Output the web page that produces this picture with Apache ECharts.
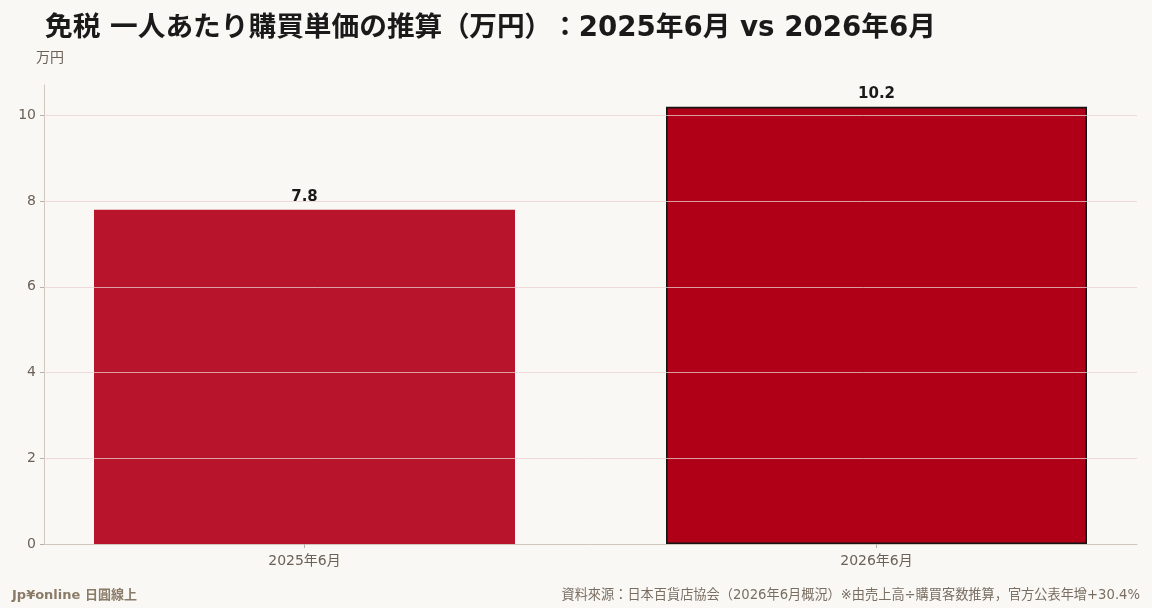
<!DOCTYPE html>
<html>
<head>
<meta charset="utf-8">
<script src="https://cdn.jsdelivr.net/npm/echarts@6/dist/echarts.min.js"></script>
<style>
  html, body { margin: 0; padding: 0; background: #faf8f5; }
  #chart { width: 1152px; height: 608px; }
</style>
</head>
<body>
<div id="chart"></div>
<script>
// 数据
const categories = ['2025年6月', '2026年6月'];
const values = [7.8, 10.2];
const barColors = ['#b8142c', '#b00018'];
const yTicks = [0, 2, 4, 6, 8, 10];

const FONT = '"DejaVu Sans", "Noto Sans CJK JP", sans-serif';

const myBar = echarts.init(document.getElementById('chart'));

const barData = values.map((v, i) => ({
    value: [i, v],
    itemStyle: i === 1
        ? { color: barColors[i], borderColor: '#141414', borderWidth: 1.6 }
        : { color: barColors[i] }
}));

const T = { fontSize: 27.7, fontWeight: 'bold', color: '#1a1a1a', fontFamily: FONT };

const option = {
    backgroundColor: '#faf8f5',
    animation: false,
    textStyle: { fontFamily: FONT },
    title: [
        {
            // 全角括号单独给宽度，保持全角间距
            text: '{a|免税 一人あたり購買単価の推算}{l|（}{a|万円}{r|）}{c|：}{a|2025年6月 vs 2026年6月}',
            left: 40,
            top: 10,
            textStyle: {
                rich: {
                    a: T,
                    l: Object.assign({}, T, { width: 27, align: 'right' }),
                    r: Object.assign({}, T, { width: 27, align: 'left' }),
                    c: Object.assign({}, T, { width: 27, align: 'center' })
                }
            }
        },
        {
            text: 'Jp¥online 日圓線上',
            left: 7,
            top: 584,
            textStyle: { fontSize: 13, fontWeight: 'bold', color: '#8a7b68', fontFamily: FONT }
        },
        {
            text: '資料來源：日本百貨店協会（2026年6月概況）※由売上高÷購買客数推算，官方公表年增+30.4%',
            right: 7,
            top: 584,
            textStyle: { fontSize: 13.2, fontWeight: 'normal', color: '#7a6e62', fontFamily: FONT }
        }
    ],
    grid: { left: 44, right: 15, top: 85, bottom: 64 },
    xAxis: {
        type: 'value',
        min: -0.4554,
        max: 1.4554,
        axisLine: { show: true, onZero: false, lineStyle: { color: '#cfc7be', width: 1 } },
        axisTick: { show: true, customValues: [0, 1], length: 4, lineStyle: { color: '#b8b0a6' } },
        axisLabel: {
            customValues: [0, 1],
            formatter: v => categories[Math.round(v)],
            fontSize: 14,
            color: '#6b6157',
            margin: 10
        },
        splitLine: { show: false }
    },
    yAxis: {
        type: 'value',
        name: '万円',
        nameLocation: 'end',
        nameGap: 20,
        nameTextStyle: { fontSize: 14, color: '#6b6157', align: 'left', padding: [0, 0, 0, -8] },
        min: 0,
        max: 10.71,
        interval: 2,
        axisLine: { show: true, onZero: false, lineStyle: { color: '#cfc7be', width: 1 } },
        axisTick: { show: true, length: 4, lineStyle: { color: '#b8b0a6' } },
        axisLabel: { fontSize: 14, color: '#6b6157', margin: 8, showMaxLabel: false },
        splitLine: { show: false }
    },
    series: [
        {
            type: 'bar',
            data: barData,
            barWidth: 421,
            label: {
                show: true,
                position: 'top',
                distance: 5,
                fontSize: 15,
                fontWeight: 'bold',
                color: '#1a1a1a',
                formatter: p => p.value[1].toFixed(1)
            },
            markLine: {
                silent: true,
                symbol: 'none',
                label: { show: false },
                z: 10,
                lineStyle: { type: 'solid', color: '#e9d2cf', width: 1, opacity: 0.75 },
                data: yTicks.filter(t => t > 0).map(t => ({ yAxis: t }))
            }
        }
    ]
};
myBar.setOption(option);
</script>
</body>
</html>
